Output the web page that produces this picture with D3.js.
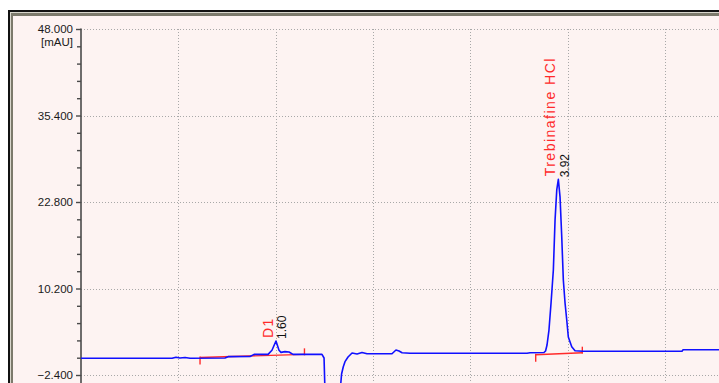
<!DOCTYPE html>
<html>
<head>
<meta charset="utf-8">
<script src="https://cdn.jsdelivr.net/npm/d3@7/dist/d3.min.js"></script>
<style>
  html, body { margin: 0; padding: 0; background: #ffffff; overflow: hidden; }
  svg { display: block; }
  text { font-family: "Liberation Sans", Arial, sans-serif; }
</style>
</head>
<body>
<svg id="chart" width="719" height="383"></svg>
<script>
// Detector trace: retention time (min) and absorbance (mAU)
const traceTime = [
  0.000, 0.748, 0.781, 0.813, 0.855, 0.896, 1.183, 1.208, 1.389, 1.422,
  1.537, 1.569, 1.602, 1.627, 1.643, 1.676, 1.709, 1.742, 1.980, 1.997,
  2.005, 2.062, 2.128, 2.141, 2.155, 2.169, 2.194, 2.227, 2.268, 2.309,
  2.350, 2.555, 2.588, 2.613, 2.638, 2.703, 3.665, 3.689, 3.804, 3.817,
  3.829, 3.845, 3.862, 3.881, 3.895, 3.909, 3.922, 3.936, 3.950, 3.963,
  3.977, 3.991, 4.004, 4.032, 4.059, 4.125, 4.938, 4.947, 5.300
];
const traceSignal = [
  0.03, 0.03, 0.18, 0.08, 0.15, 0.03, 0.08, 0.27, 0.30, 0.60,
  0.60, 1.20, 2.55, 1.20, 0.90, 1.00, 0.95, 0.60, 0.60, 0.08,
  -5.00, -8.00, -5.00, -2.25, -1.19, -0.46, 0.22, 0.80, 0.66, 0.88,
  0.70, 0.70, 1.24, 1.10, 0.85, 0.76, 0.76, 0.85, 0.88, 1.10,
  1.97, 4.15, 8.09, 12.90, 20.20, 24.55, 26.10, 23.50, 17.70, 11.44,
  8.09, 5.61, 3.13, 1.72, 1.14, 1.05, 1.05, 1.27, 1.27
];

// Identified peaks
const peakNames = ["D1", "Trebinafine HCl"];
const peakTimes = [1.60, 3.92];
const peakApex = [2.55, 26.10];

// Integration baselines (start / end of each peak)
const baseStartTime = [0.978, 3.736];
const baseStartValue = [0.15, 0.55];
const baseEndTime = [1.836, 4.119];
const baseEndValue = [0.61, 0.85];

// Axis ticks
const yTickValues = [48.0, 35.4, 22.8, 10.2, -2.4];
const yMinorStep = 2.52;
const xGridValues = [0.8, 1.6, 2.4, 3.2, 4.0, 4.8];

const svg = d3.select("#chart");
const W = 719, H = 383;
const plotLeft = 81, plotTop = 29;

const x = d3.scaleLinear().domain([0, 5.242]).range([plotLeft, 719]);
const y = d3.scaleLinear().domain([-2.4, 48]).range([375, plotTop]);

// Window frame
svg.append("rect").attr("x", 13).attr("y", 16).attr("width", W).attr("height", H)
  .attr("fill", "#fdf3f2");
svg.append("rect").attr("x", 8).attr("y", 10).attr("width", W).attr("height", 2).attr("fill", "#111");
svg.append("rect").attr("x", 8).attr("y", 10).attr("width", 2).attr("height", H).attr("fill", "#111");
svg.append("rect").attr("x", 10).attr("y", 12).attr("width", W).attr("height", 1).attr("fill", "#d8d6cc");
svg.append("rect").attr("x", 10).attr("y", 12).attr("width", 1).attr("height", H).attr("fill", "#d8d6cc");
svg.append("rect").attr("x", 11).attr("y", 13).attr("width", W).attr("height", 3).attr("fill", "#7c7a6c");
svg.append("rect").attr("x", 11).attr("y", 13).attr("width", 2).attr("height", H).attr("fill", "#7c7a6c");

// Dotted grid
const grid = svg.append("g").attr("stroke", "#a8a8a8").attr("stroke-width", 1)
  .attr("stroke-dasharray", "1,2").attr("fill", "none");
grid.selectAll("line.h").data(yTickValues).join("line").attr("class", "h")
  .attr("x1", plotLeft).attr("x2", W)
  .attr("y1", d => Math.round(y(d)) + 0.5).attr("y2", d => Math.round(y(d)) + 0.5);
grid.selectAll("line.v").data(xGridValues).join("line").attr("class", "v")
  .attr("x1", d => Math.round(x(d)) + 0.5).attr("x2", d => Math.round(x(d)) + 0.5)
  .attr("y1", plotTop).attr("y2", H);

// Y axis with major and minor ticks
const minorTicks = d3.range(-2.4, 48.001, yMinorStep).map(v => +v.toFixed(2))
  .filter(v => !yTickValues.some(t => Math.abs(t - v) < 1e-6));
const yAxis = d3.axisLeft(y).tickValues(yTickValues).tickFormat(d3.format(".3f"))
  .tickSize(5).tickPadding(3);
const yMinor = d3.axisLeft(y).tickValues(minorTicks).tickFormat("").tickSize(4);

const gMinor = svg.append("g").attr("transform", `translate(${plotLeft},0)`).call(yMinor);
gMinor.select(".domain").remove();
gMinor.selectAll("line").attr("stroke", "#4a4a4a").attr("stroke-width", 1.4);

const gAxis = svg.append("g").attr("transform", `translate(${plotLeft},0)`).call(yAxis);
gAxis.select(".domain").remove();
gAxis.selectAll("line").attr("stroke", "#4a4a4a").attr("stroke-width", 1.4);
gAxis.selectAll("text").attr("font-size", 11.5).attr("fill", "#1a1a1a")
  .attr("font-family", "\"Liberation Sans\", Arial, sans-serif");

svg.append("line").attr("x1", plotLeft).attr("x2", plotLeft).attr("y1", plotTop - 0.5).attr("y2", H)
  .attr("stroke", "#4a4a4a").attr("stroke-width", 1.6);

svg.append("text").attr("x", plotLeft - 8).attr("y", y(48) + 17)
  .attr("text-anchor", "end").attr("font-size", 11.5).attr("fill", "#1a1a1a")
  .text("[mAU]");

// Integration baselines with start/end marks
const red = "#ff2a2a";
const gBase = svg.append("g").attr("stroke", red).attr("stroke-width", 1.4).attr("fill", "none");
peakNames.forEach((name, i) => {
  gBase.append("line")
    .attr("x1", x(baseStartTime[i])).attr("y1", y(baseStartValue[i]))
    .attr("x2", x(baseEndTime[i])).attr("y2", y(baseEndValue[i]));
  gBase.append("line")
    .attr("x1", x(baseStartTime[i])).attr("x2", x(baseStartTime[i]))
    .attr("y1", y(baseStartValue[i]) - 1).attr("y2", y(baseStartValue[i]) + 7);
  gBase.append("line")
    .attr("x1", x(baseEndTime[i])).attr("x2", x(baseEndTime[i]))
    .attr("y1", y(baseEndValue[i]) + 1).attr("y2", y(baseEndValue[i]) - 6);
});

// Chromatogram trace
const line = d3.line().x((d, i) => x(traceTime[i])).y((d, i) => y(traceSignal[i]));
svg.append("path").datum(traceTime).attr("d", line)
  .attr("fill", "none").attr("stroke", "#1010ff").attr("stroke-width", 1.6)
  .attr("stroke-linejoin", "round");

// Peak labels: name and retention time, rotated
peakNames.forEach((name, i) => {
  const px = x(peakTimes[i]), py = y(peakApex[i]);
  svg.append("text")
    .attr("transform", `translate(${px - 3},${py - 3}) rotate(-90)`)
    .attr("font-size", 14).attr("letter-spacing", 1.5).attr("fill", red)
    .text(name);
  svg.append("text")
    .attr("transform", `translate(${px + 10.5},${py - 2}) rotate(-90)`)
    .attr("font-size", 12).attr("fill", "#111")
    .text(d3.format(".2f")(peakTimes[i]));
});
</script>
</body>
</html>
